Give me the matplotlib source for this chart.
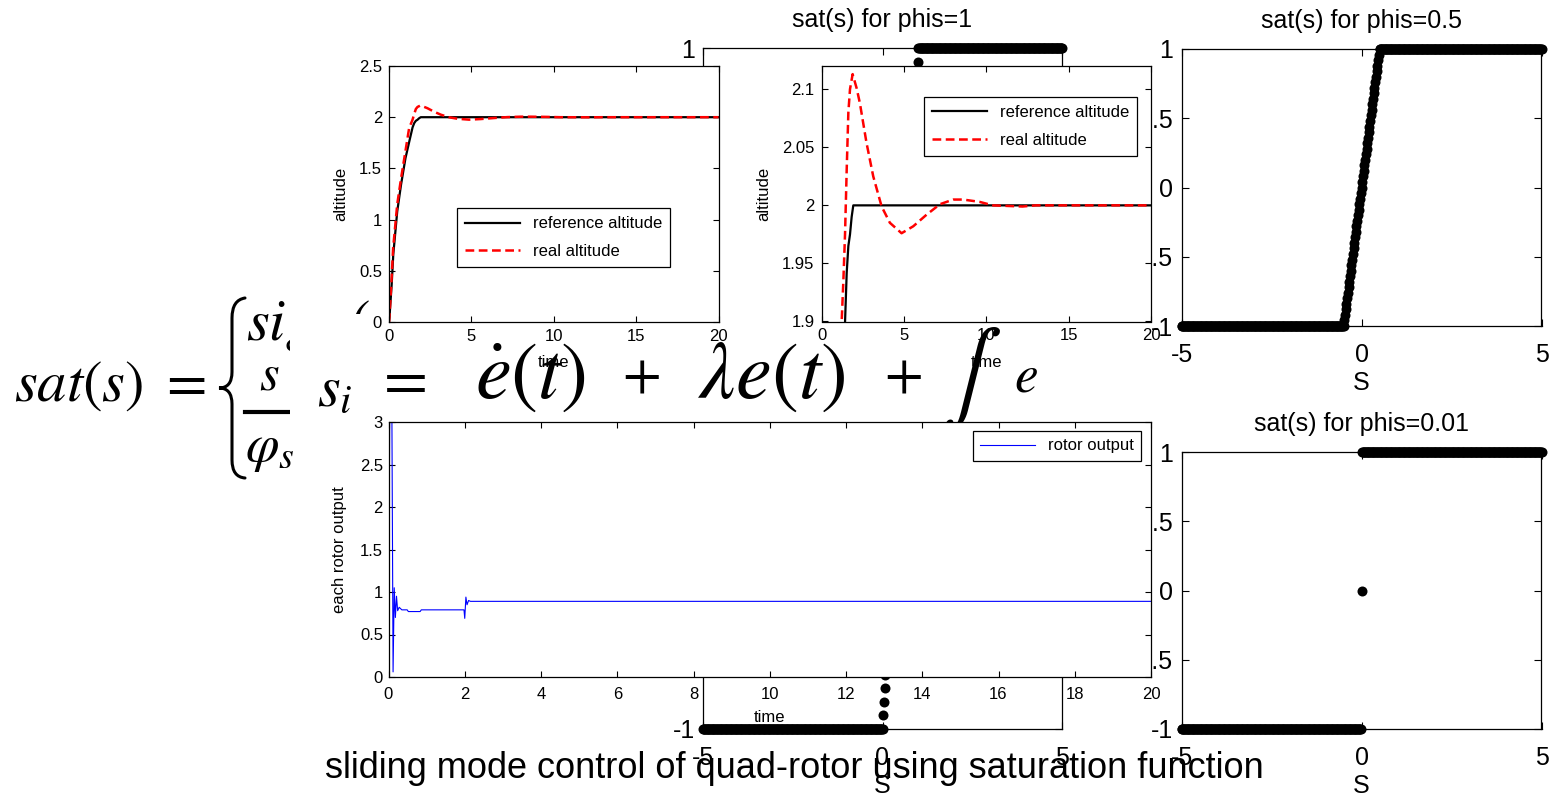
import numpy as np
import matplotlib
matplotlib.use('Agg')
import matplotlib.pyplot as plt
from matplotlib.lines import Line2D
from matplotlib.patches import PathPatch, Rectangle
from matplotlib.path import Path
from matplotlib.textpath import TextPath
from matplotlib.transforms import IdentityTransform

plt.rcParams['font.family'] = ['Liberation Sans', 'DejaVu Sans']
plt.rcParams['mathtext.fontset'] = 'stix'
plt.rcParams['axes.unicode_minus'] = False

# altitude step response (time in s, altitude in m)
t_ref = [0, 0.03, 0.16, 0.26, 0.5, 0.73, 1.0, 1.27, 1.43, 1.53, 1.63, 1.73, 1.83, 1.93, 20]
alt_ref = [0, 0.05, 0.36, 0.66, 1.08, 1.34, 1.6, 1.79, 1.9, 1.942, 1.965, 1.975, 1.99, 2.0, 2.0]
t_real = [0, 0.03, 0.15, 0.25, 0.5, 0.73, 1.0, 1.23, 1.33, 1.43, 1.53, 1.63, 1.73, 1.89,
          2.13, 2.33, 2.73, 3.14, 3.65, 4.15, 4.86, 5.57, 6.38, 7.19, 8.0, 8.6, 9.6,
          10.4, 12.2, 13.0, 20]
alt_real = [0, 0.06, 0.4, 0.72, 1.15, 1.4, 1.67, 1.902, 1.936, 1.976, 2.031, 2.08, 2.1, 2.113,
            2.101, 2.088, 2.054, 2.025, 1.999, 1.985, 1.976, 1.982, 1.992, 2.001, 2.005, 2.005, 2.003,
            2.0, 1.999, 2.0, 2.0]

# command sent to each rotor
t_rotor = [0, 0.03, 0.09, 0.12, 0.15, 0.18, 0.21, 0.24, 0.28, 0.35, 0.49, 0.52, 0.83, 0.86,
           1.98, 2.0, 2.03, 2.06, 2.1, 2.15, 20]
u_rotor = [0, 3.0, 3.0, 0.06, 1.05, 0.7, 0.95, 0.78, 0.82, 0.79, 0.79, 0.77, 0.77, 0.79,
           0.79, 0.69, 0.94, 0.85, 0.9, 0.89, 0.89]

# saturation function sweep
s = np.linspace(-5, 5, 501)
phis = [1, 0.5, 0.01]
sat_runs = [
    np.clip(2 * s / phis[0] - 1, -1, 1),   # this run ramps from s = 0 up to s = phis
    np.clip(s / phis[1], -1, 1),
    np.clip(s / phis[2], -1, 1),
]

W, H = 1556, 795
fig = plt.figure(figsize=(W / 100, H / 100), dpi=100)
PX = IdentityTransform()


def px_axes(x0, y0, x1, y1, z):
    ax = fig.add_axes([x0 / W, 1 - y1 / H, (x1 - x0) / W, (y1 - y0) / H])
    ax.set_zorder(z)
    for sp in ax.spines.values():
        sp.set_linewidth(0.9)
    return ax


def box_ticks(ax, size, xpad, ypad, length=4):
    ax.tick_params(direction='in', top=True, right=True, length=length, width=0.8,
                   labelsize=size)
    ax.tick_params(axis='x', pad=xpad)
    ax.tick_params(axis='y', pad=ypad)


def sat_panel(box, y, title, z):
    ax = px_axes(*box, z)
    ax.plot(s, y, 'o', color='k', ms=7.2, mew=0, clip_on=False)
    ax.set_xlim(-5, 5)
    ax.set_ylim(-1, 1)
    ax.set_xticks([-5, 0, 5])
    ax.set_xticklabels(['-5', '0', '5'])
    ax.set_yticks([-1, -0.5, 0, 0.5, 1])
    ax.set_yticklabels(['-1', '-0.5', '0', '0.5', '1'])
    box_ticks(ax, 18, 12, 6, length=5)
    ax.set_title(title, fontsize=18, pad=15)
    ax.set_xlabel('S', fontsize=18, labelpad=3)
    return ax


# sat(s) sweeps
sat_panel((703, 48, 1062, 729), sat_runs[0], 'sat(s) for phis=1', 0)
sat_panel((1181.5, 49, 1541.5, 326), sat_runs[1], 'sat(s) for phis=0.5', 3.5)
sat_panel((1181.5, 452, 1541.5, 729), sat_runs[2], 'sat(s) for phis=0.01', 3.5)

leg_kw = dict(fontsize=12, fancybox=False, edgecolor='k', framealpha=1, borderaxespad=0,
              handlelength=3.3, handletextpad=0.75, labelspacing=0.75, borderpad=0.5)

# altitude tracking, full range and close-up
for box, ylim, yt, ytl, legpos in [
        ((389, 66, 718.5, 322), (0, 2.5), [0, 0.5, 1, 1.5, 2, 2.5],
         ['0', '0.5', '1', '1.5', '2', '2.5'], (0.206, 0.445)),
        ((821.5, 66, 1151, 321.5), (1.9, 2.12), [1.9, 1.95, 2, 2.05, 2.1],
         ['1.9', '1.95', '2', '2.05', '2.1'], (0.311, 0.879))]:
    ax = px_axes(*box, 4)
    ax.plot(t_ref, alt_ref, color='k', lw=1.6, label='reference altitude')
    ax.plot(t_real, alt_real, color='r', lw=1.8, ls='--', dashes=(3.5, 1.8), label='real altitude')
    ax.set_xlim(0, 20)
    ax.set_ylim(*ylim)
    ax.set_xticks([0, 5, 10, 15, 20])
    ax.set_yticks(yt)
    ax.set_yticklabels(ytl)
    box_ticks(ax, 12, 5, 5)
    ax.set_xlabel('time', fontsize=12, labelpad=8)
    ax.set_ylabel('altitude', fontsize=12, labelpad=8)
    leg = ax.legend(loc='upper left', bbox_to_anchor=legpos, **leg_kw)
    leg.get_frame().set_linewidth(0.9)

# rotor output
ax = px_axes(388.5, 422, 1151, 677, 4)
ax.plot(t_rotor, u_rotor, color='#0000ff', lw=0.8, label='rotor output')
ax.set_xlim(0, 20)
ax.set_ylim(0, 3)
ax.set_xticks(np.arange(0, 21, 2))
ax.set_yticks([0, 0.5, 1, 1.5, 2, 2.5, 3])
ax.set_yticklabels(['0', '0.5', '1', '1.5', '2', '2.5', '3'])
box_ticks(ax, 12, 7, 4)
ax.set_xlabel('time', fontsize=12, labelpad=6)
ax.set_ylabel('each rotor output', fontsize=12, labelpad=9)
leg = ax.legend(loc='upper right', bbox_to_anchor=(0.987, 0.965),
                **dict(leg_kw, labelspacing=0.4, borderpad=0.45))
leg.get_frame().set_linewidth(0.9)


# equations, placed in pixel coordinates measured from the top-left corner
def math_ext(tex):
    return TextPath((0, 0), tex, size=100).get_extents()


def eq_box(tex, x0, y0, x1, y1, z, align='center'):
    """Math text sized to the ink height y0..y1, centred (or left-aligned) on x0..x1."""
    ext = math_ext(tex)
    k = (y1 - y0) / ext.height
    base = y1 + ext.y0 * k
    if align == 'left':
        x = x0 - ext.x0 * k
    else:
        x = (x0 + x1) / 2 - (ext.x0 + ext.width / 2) * k
    fig.text(x, H - base, tex, fontsize=72 * k, transform=PX,
             ha='left', va='baseline', zorder=z)
    return k


def eq_at(tex, x0, base, k, z):
    ext = math_ext(tex)
    fig.text(x0 - ext.x0 * k, H - base, tex, fontsize=72 * k, transform=PX,
             ha='left', va='baseline', zorder=z)


k1 = eq_box(r'$sat(s)\ =$', 15, 361, 198, 411, 1, align='left')
eq_at(r'$sign\,(s)\ \ if\ |s|>\varphi_s$', 247, 340, k1, 1)
eq_box(r'$s$', 259, 367, 278, 390, 1)
eq_box(r'$\varphi_s$', 247, 437, 293, 472, 1)
fig.add_artist(Line2D([245, 300], [H - 412, H - 412], color='k', lw=3,
                      transform=PX, zorder=1))
brace = [(245, 298), (232, 300), (232, 318), (232, 372), (232, 388), (219, 388),
         (232, 388), (232, 404), (232, 460), (232, 477), (245, 478)]
codes = [Path.MOVETO, Path.CURVE3, Path.CURVE3, Path.LINETO, Path.CURVE3, Path.CURVE3,
         Path.CURVE3, Path.CURVE3, Path.LINETO, Path.CURVE3, Path.CURVE3]
fig.add_artist(PathPatch(Path([(x, H - y) for x, y in brace], codes), fill=False, ec='k',
                         lw=2.2, capstyle='round', transform=PX, zorder=1))

fig.add_artist(Rectangle((290, H - 423), 774, 109, fc='white', ec='none',
                         transform=PX, zorder=2))
eq_box(r'$s_i$', 308, 380, 360, 414, 3)
eq_box(r'$=$', 390, 373, 420, 390, 3)
eq_box(r'$\dot{e}(t)$', 470, 343, 591, 412, 3)
eq_box(r'$+$', 618, 360, 665, 393, 3)
eq_box(r'$\lambda e(t)$', 689, 343, 851, 412, 3)
eq_box(r'$+$', 882, 360, 925, 393, 3)
eq_box(r'$\int$', 958, 326, 986, 428, 3)
eq_box(r'$e$', 1008, 368, 1044, 392, 3)

fig.text(794.5 / W, 1 - 778 / H, 'sliding mode control of quad-rotor using saturation function',
         fontsize=26, ha='center', va='baseline', zorder=6)

fig.savefig('out.png', dpi=100)
